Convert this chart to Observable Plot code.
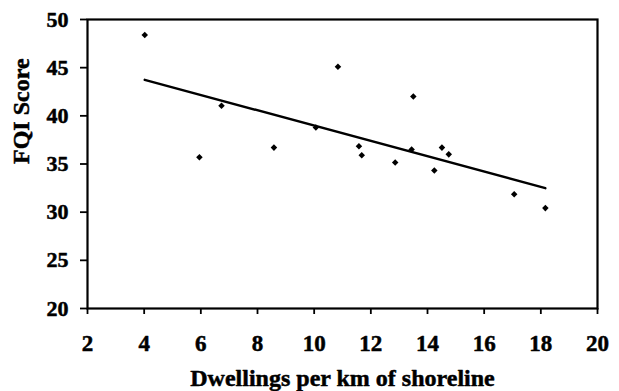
<!DOCTYPE html>
<html>
<head>
<meta charset="utf-8">
<script src="https://cdn.jsdelivr.net/npm/d3@7"></script>
<script src="https://cdn.jsdelivr.net/npm/@observablehq/plot@0.6"></script>
<style>
  html, body { margin: 0; padding: 0; background: #fff; }
  #chart svg { display: block; }
</style>
</head>
<body>
<div id="chart"></div>
<script>
// Data
const dwellings = [4.02, 5.95, 6.73, 8.58, 10.06, 10.84, 11.58, 11.68, 12.86, 13.44, 13.5, 14.24, 14.51, 14.75, 17.06, 18.16];
const fqi       = [48.4, 35.7, 41.05, 36.7, 38.8, 45.1, 36.85, 35.9, 35.16, 36.5, 42.0, 34.33, 36.7, 36.0, 31.87, 30.42];
const xTicks = [2, 4, 6, 8, 10, 12, 14, 16, 18, 20];
const yTicks = [20, 25, 30, 35, 40, 45, 50];
const xTitle = "Dwellings per km of shoreline";
const yTitle = "FQI Score";

const points = dwellings.map((x, i) => ({x, y: fqi[i]}));
const font = "Liberation Serif";
const ink = {fontWeight: "bold", fontFamily: font, fill: "#000", stroke: "#000", strokeWidth: 0.5};

const chart = Plot.plot({
  width: 619,
  height: 391,
  marginLeft: 87,
  marginRight: 22,
  marginTop: 19,
  marginBottom: 83,
  style: {fontFamily: font, fontWeight: "bold", fontSize: "19px", color: "#000", background: "#fff"},
  x: {domain: [2, 20]},
  y: {domain: [20, 50]},
  marks: [
    Plot.axisY({ticks: yTicks, tickSize: 7, strokeWidth: 1.8, tickFormat: () => "", label: null}),
    Plot.axisX({ticks: xTicks, tickSize: 6, strokeWidth: 1.8, tickFormat: () => "", label: null}),
    Plot.text(yTicks, {x: 2, y: (d) => d, text: (d) => String(d), dx: -19, textAnchor: "end", lineAnchor: "middle", fontSize: 22, ...ink}),
    Plot.text(xTicks, {x: (d) => d, y: 20, text: (d) => String(d), dy: 26, lineAnchor: "top", fontSize: 23, ...ink}),
    Plot.frame({stroke: "#000", strokeWidth: 2.2}),
    Plot.linearRegressionY(points, {x: "x", y: "y", ci: 0, stroke: "#000", strokeWidth: 2.4}),
    Plot.dot(points, {x: "x", y: "y", symbol: "square", rotate: 45, r: 2.6, fill: "#000", stroke: "none"}),
    Plot.text([xTitle], {frameAnchor: "bottom", dy: 70, lineAnchor: "middle", fontSize: 24, ...ink}),
    Plot.text([yTitle], {frameAnchor: "left", dx: -66, rotate: -90, lineAnchor: "middle", fontSize: 24, ...ink})
  ]
});
document.getElementById("chart").appendChild(chart);
</script>
</body>
</html>
